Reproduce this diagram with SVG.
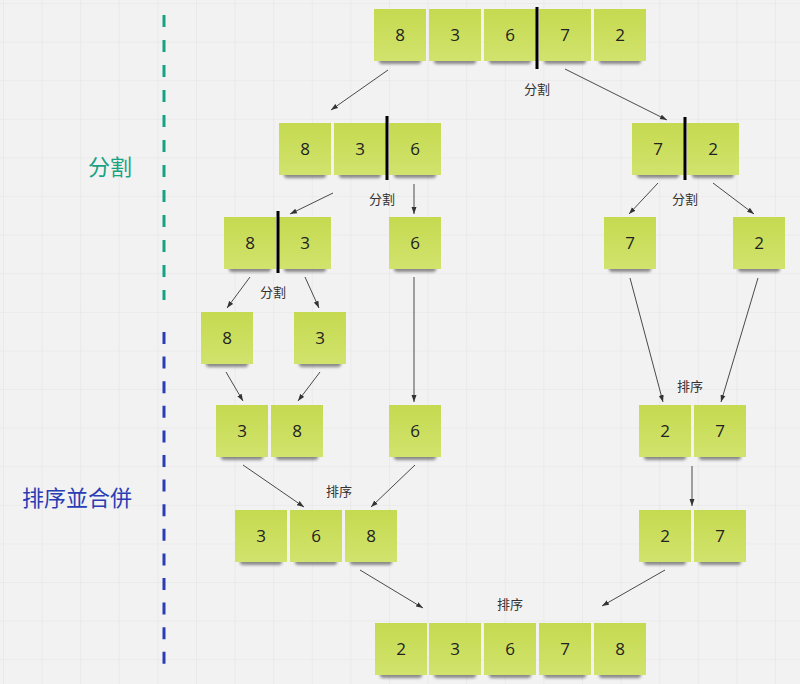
<svg xmlns="http://www.w3.org/2000/svg" xmlns:xlink="http://www.w3.org/1999/xlink" width="800" height="684" viewBox="0 0 800 684">
<style>
.num{font-family:"Open Sans","Noto Sans",sans-serif;font-size:17px;fill:#222;text-anchor:middle}
.lbl{font-family:"Noto Sans CJK SC",sans-serif;font-size:13px;fill:#333;text-anchor:middle}
.big{font-family:"Noto Sans CJK SC",sans-serif;font-size:22px;text-anchor:middle}
.con{stroke:#4a4a4a;stroke-width:1;fill:none;marker-end:url(#ah)}
.div{stroke:#000;stroke-width:3}
</style>
<defs>
<pattern id="grid" patternUnits="userSpaceOnUse" x="3" y="3" width="38.6" height="38.6">
<path d="M0 0H38.6M0 0V38.6" stroke="#e4e4e4" stroke-width="1.2" fill="none"/>
</pattern>
<linearGradient id="ng" x1="0" y1="0" x2="0" y2="1">
<stop offset="0" stop-color="#c5da50"/>
<stop offset="1" stop-color="#d1e36d"/>
</linearGradient>
<filter id="blur" x="-20%" y="-100%" width="140%" height="300%"><feGaussianBlur stdDeviation="1.8"/></filter>
<g id="card">
<rect x="5" y="47" width="42" height="8" rx="3" fill="#333" opacity="0.55" filter="url(#blur)"/>
<rect x="0" y="0" width="52" height="52" fill="url(#ng)"/>
</g>
<marker id="ah" markerWidth="8" markerHeight="6" refX="7" refY="3" orient="auto" markerUnits="userSpaceOnUse">
<path d="M0,0.5 L7,3 L0,5.5 Z" fill="#333"/>
</marker>
</defs>
<rect width="800" height="684" fill="#f2f2f2"/>
<rect width="800" height="684" fill="url(#grid)"/>

<g id="side">
<line x1="164" y1="15" x2="164" y2="300" stroke="#17a283" stroke-width="3" stroke-dasharray="12 13"/>
<line x1="164" y1="332" x2="164" y2="667" stroke="#2b3db5" stroke-width="3" stroke-dasharray="12 12.6"/>
<text class="big" x="110" y="175" fill="#17a283">分割</text>
<text class="big" x="77" y="506" fill="#2b3db5">排序並合併</text>
</g>

<g id="connectors">
<line class="con" x1="388" y1="70" x2="331" y2="110"/>
<line class="con" x1="565" y1="69" x2="667" y2="120"/>
<line class="con" x1="333" y1="193" x2="290" y2="214"/>
<line class="con" x1="414" y1="184" x2="414" y2="214"/>
<line class="con" x1="658" y1="183" x2="629" y2="214"/>
<line class="con" x1="713" y1="183" x2="754" y2="214"/>
<line class="con" x1="250" y1="277" x2="227" y2="308"/>
<line class="con" x1="305" y1="277" x2="319" y2="308"/>
<line class="con" x1="226" y1="372" x2="243" y2="401"/>
<line class="con" x1="320" y1="372" x2="298" y2="401"/>
<line class="con" x1="414" y1="277" x2="414" y2="402"/>
<line class="con" x1="630" y1="278" x2="663" y2="402"/>
<line class="con" x1="758" y1="278" x2="721" y2="402"/>
<line class="con" x1="692" y1="466" x2="692" y2="506"/>
<line class="con" x1="243" y1="465" x2="304" y2="507"/>
<line class="con" x1="415" y1="465" x2="371" y2="507"/>
<line class="con" x1="360" y1="570" x2="423" y2="608"/>
<line class="con" x1="665" y1="570" x2="602" y2="606"/>
</g>

<g id="labels">
<text class="lbl" x="537" y="94">分割</text>
<text class="lbl" x="382" y="204">分割</text>
<text class="lbl" x="685" y="204">分割</text>
<text class="lbl" x="273" y="297">分割</text>
<text class="lbl" x="690" y="391">排序</text>
<text class="lbl" x="339" y="496">排序</text>
<text class="lbl" x="510" y="609">排序</text>
</g>

<g id="r1a" transform="translate(374,9)"><use xlink:href="#card"/><text class="num" x="26" y="32">8</text></g>
<g id="r1b" transform="translate(429,9)"><use xlink:href="#card"/><text class="num" x="26" y="32">3</text></g>
<g id="r1c" transform="translate(484,9)"><use xlink:href="#card"/><text class="num" x="26" y="32">6</text></g>
<g id="r1d" transform="translate(539,9)"><use xlink:href="#card"/><text class="num" x="26" y="32">7</text></g>
<g id="r1e" transform="translate(594,9)"><use xlink:href="#card"/><text class="num" x="26" y="32">2</text></g>
<line id="d1" class="div" x1="537" y1="7" x2="537" y2="69"/>

<g id="r2a" transform="translate(279,123)"><use xlink:href="#card"/><text class="num" x="26" y="32">8</text></g>
<g id="r2b" transform="translate(334,123)"><use xlink:href="#card"/><text class="num" x="26" y="32">3</text></g>
<g id="r2c" transform="translate(389,123)"><use xlink:href="#card"/><text class="num" x="26" y="32">6</text></g>
<line id="d2" class="div" x1="387" y1="116" x2="387" y2="180"/>
<g id="r2d" transform="translate(632,123)"><use xlink:href="#card"/><text class="num" x="26" y="32">7</text></g>
<g id="r2e" transform="translate(687,123)"><use xlink:href="#card"/><text class="num" x="26" y="32">2</text></g>
<line id="d3" class="div" x1="685" y1="117" x2="685" y2="180"/>

<g id="r3a" transform="translate(224,217)"><use xlink:href="#card"/><text class="num" x="26" y="32">8</text></g>
<g id="r3b" transform="translate(279,217)"><use xlink:href="#card"/><text class="num" x="26" y="32">3</text></g>
<line id="d4" class="div" x1="278" y1="211" x2="278" y2="273"/>
<g id="r3c" transform="translate(389,217)"><use xlink:href="#card"/><text class="num" x="26" y="32">6</text></g>
<g id="r3d" transform="translate(604,217)"><use xlink:href="#card"/><text class="num" x="26" y="32">7</text></g>
<g id="r3e" transform="translate(733,217)"><use xlink:href="#card"/><text class="num" x="26" y="32">2</text></g>

<g id="r4a" transform="translate(201,312)"><use xlink:href="#card"/><text class="num" x="26" y="32">8</text></g>
<g id="r4b" transform="translate(294,312)"><use xlink:href="#card"/><text class="num" x="26" y="32">3</text></g>

<g id="r5a" transform="translate(216,405)"><use xlink:href="#card"/><text class="num" x="26" y="32">3</text></g>
<g id="r5b" transform="translate(271,405)"><use xlink:href="#card"/><text class="num" x="26" y="32">8</text></g>
<g id="r5c" transform="translate(389,405)"><use xlink:href="#card"/><text class="num" x="26" y="32">6</text></g>
<g id="r5d" transform="translate(639,405)"><use xlink:href="#card"/><text class="num" x="26" y="32">2</text></g>
<g id="r5e" transform="translate(694,405)"><use xlink:href="#card"/><text class="num" x="26" y="32">7</text></g>

<g id="r6a" transform="translate(235,510)"><use xlink:href="#card"/><text class="num" x="26" y="32">3</text></g>
<g id="r6b" transform="translate(290,510)"><use xlink:href="#card"/><text class="num" x="26" y="32">6</text></g>
<g id="r6c" transform="translate(345,510)"><use xlink:href="#card"/><text class="num" x="26" y="32">8</text></g>
<g id="r6d" transform="translate(639,510)"><use xlink:href="#card"/><text class="num" x="26" y="32">2</text></g>
<g id="r6e" transform="translate(694,510)"><use xlink:href="#card"/><text class="num" x="26" y="32">7</text></g>

<g id="r7a" transform="translate(375,623)"><use xlink:href="#card"/><text class="num" x="26" y="32">2</text></g>
<g id="r7b" transform="translate(429,623)"><use xlink:href="#card"/><text class="num" x="26" y="32">3</text></g>
<g id="r7c" transform="translate(484,623)"><use xlink:href="#card"/><text class="num" x="26" y="32">6</text></g>
<g id="r7d" transform="translate(539,623)"><use xlink:href="#card"/><text class="num" x="26" y="32">7</text></g>
<g id="r7e" transform="translate(594,623)"><use xlink:href="#card"/><text class="num" x="26" y="32">8</text></g>
</svg>
